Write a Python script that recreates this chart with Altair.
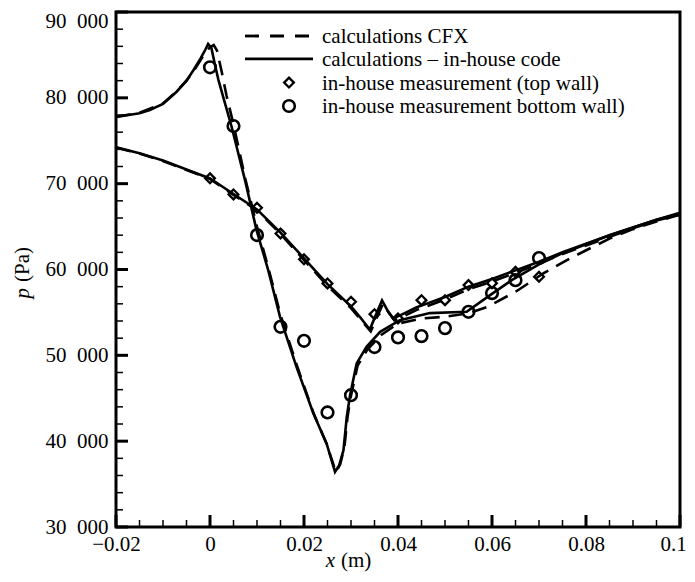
import altair as alt
import pandas as pd

# ---------------- data ----------------
top_code_x = [-0.02, -0.015, -0.01, -0.005, 0.0, 0.005, 0.01, 0.015, 0.02, 0.025, 0.03, 0.032,
              0.034, 0.0355, 0.0366, 0.0378, 0.039, 0.041, 0.044, 0.047, 0.05, 0.055, 0.06,
              0.065, 0.07, 0.075, 0.08, 0.085, 0.09, 0.095, 0.1]
top_code_p = [74230, 73550, 72700, 71650, 70600, 68800, 67000, 64300, 61300, 58300, 55700, 54400,
              53000, 55000, 56400, 55200, 54300, 54800, 55600, 56200, 56800, 58000, 58900,
              59900, 60900, 62000, 63000, 64000, 64900, 65800, 66500]

top_cfx_x = [-0.02, -0.015, -0.01, -0.005, 0.0, 0.005, 0.01, 0.015, 0.02, 0.025, 0.03, 0.032,
             0.0342, 0.0358, 0.0368, 0.038, 0.0392, 0.041, 0.044, 0.047, 0.05, 0.055, 0.06,
             0.065, 0.07, 0.075, 0.08, 0.085, 0.09, 0.095, 0.1]
top_cfx_p = [74200, 73500, 72650, 71600, 70550, 68700, 66900, 64150, 61100, 58100, 55500, 54200,
             52800, 54800, 56000, 55000, 54100, 54500, 55300, 55900, 56500, 57700, 58600,
             59600, 60700, 61800, 62800, 63800, 64800, 65700, 66400]

bot_code_x = [-0.02, -0.015, -0.0128, -0.01, -0.0071, -0.005, -0.0035, -0.002, -0.001, -0.0004,
              0.0003, 0.001, 0.0018, 0.003, 0.0046, 0.0075, 0.0099, 0.0124, 0.0149, 0.0184,
              0.022, 0.0248, 0.0266, 0.0275, 0.0284, 0.0291, 0.0298, 0.0312, 0.0333, 0.0362,
              0.0404, 0.0468, 0.0546, 0.0596, 0.0642, 0.07, 0.075, 0.08, 0.085, 0.09, 0.095, 0.1]
bot_code_p = [77760, 78200, 78580, 79300, 80710, 82000, 83240, 84600, 85600, 86270,
              85800, 84000, 82070, 79740, 76630, 70300, 64590, 59900, 54490, 48660,
              43230, 39730, 36420, 37200, 38950, 42830, 45360, 49060, 50990, 52740,
              54100, 54920, 55070, 57020, 58760, 60600, 61900, 62950, 64000, 64900, 65800, 66600]

bot_cfx_x = [-0.02, -0.015, -0.01, -0.0071, -0.005, -0.0035, -0.002, -0.001, 0.0, 0.0008,
             0.0015, 0.0025, 0.0035, 0.005, 0.0075, 0.01, 0.0125, 0.015, 0.0185, 0.022,
             0.0248, 0.0268, 0.0277, 0.0286, 0.0293, 0.03, 0.0314, 0.0335, 0.0365, 0.04,
             0.045, 0.05, 0.055, 0.059, 0.065, 0.071, 0.0766, 0.085, 0.09, 0.095, 0.1]
bot_cfx_p = [77800, 78250, 79350, 80750, 82000, 83100, 84400, 85300, 85900, 86150,
             85500, 83000, 80300, 76900, 70600, 65000, 60000, 54700, 48800, 43300,
             39700, 36400, 37300, 39300, 43000, 45300, 48800, 50700, 52400, 53700,
             54300, 54500, 54900, 55650, 57400, 59580, 61300, 63600, 64700, 65600, 66400]

top_meas_x = [0.0, 0.005, 0.01, 0.015, 0.02, 0.025, 0.03, 0.035, 0.04, 0.045, 0.05, 0.055,
              0.06, 0.065, 0.07]
top_meas_p = [70620, 68750, 67190, 64200, 61180, 58380, 56240, 54800, 54300, 56430, 56430,
              58180, 58410, 59730, 59150]

bot_meas_x = [0.0, 0.005, 0.01, 0.015, 0.02, 0.025, 0.03, 0.035, 0.04, 0.045, 0.05, 0.055,
              0.06, 0.065, 0.07]
bot_meas_p = [83560, 76710, 64010, 53320, 51690, 43350, 45360, 50960, 52090, 52240, 53170,
              55070, 57250, 58760, 61330]

x_ticks = [-0.02, 0.0, 0.02, 0.04, 0.06, 0.08, 0.1]
x_minor = [-0.015, -0.01, -0.005, 0.005, 0.01, 0.015, 0.025, 0.03, 0.035, 0.045, 0.05, 0.055,
           0.065, 0.07, 0.075, 0.085, 0.09, 0.095]
y_ticks = [30000, 40000, 50000, 60000, 70000, 80000, 90000]
y_minor = [v for v in range(32000, 90000, 2000) if v % 10000 != 0]

legend_labels = ["calculations CFX", "calculations \u2013 in-house code",
                 "in-house measurement (top wall)", "in-house measurement bottom wall)"]

# ---------------- chart ----------------
W, H = 564, 515
FONT = "Liberation Serif"

xs = alt.Scale(domain=[-0.02, 0.1], nice=False, zero=False)
ys = alt.Scale(domain=[30000, 90000], nice=False, zero=False)

xaxis = alt.Axis(values=x_ticks, format=".2~f", ticks=False, domain=False, grid=False,
                 labelFont=FONT, labelFontSize=21, labelColor="black", labelPadding=6,
                 labelFlush=False, title=None,
                 labelOffset={"condition": {"test": "datum.value == 0.1", "value": -7},
                              "value": 0})
yaxis = alt.Axis(values=y_ticks, ticks=False, domain=False, grid=False,
                 labelExpr="replace(format(datum.value, ',d'), ',', '\u2002')",
                 labelFont=FONT, labelFontSize=21, labelColor="black", labelPadding=8,
                 labelFlush=False, title=None,
                 labelOffset={"condition": {"test": "datum.value == 90000", "value": 9},
                              "value": 0})


def curve(xv, pv, dash=None, first=False):
    df = pd.DataFrame({"x": xv, "p": pv})
    kw = dict(color="black", strokeWidth=2.6, clip=True)
    if dash:
        kw["strokeDash"] = dash
    m = alt.Chart(df).mark_line(**kw)
    if first:
        return m.encode(x=alt.X("x:Q", scale=xs, axis=xaxis),
                        y=alt.Y("p:Q", scale=ys, axis=yaxis))
    return m.encode(x=alt.X("x:Q", scale=xs), y=alt.Y("p:Q", scale=ys))


dash = [15, 9]
layers = [
    curve(bot_cfx_x, bot_cfx_p, dash, first=True),
    curve(top_cfx_x, top_cfx_p, dash),
    curve(bot_code_x, bot_code_p),
    curve(top_code_x, top_code_p),
]

DIAMOND = dict(shape="diamond", size=95, filled=False, color="black", strokeWidth=2.3, opacity=1)
CIRCLE = dict(shape="circle", size=135, filled=False, color="black", strokeWidth=2.6, opacity=1)

top_df = pd.DataFrame({"x": top_meas_x, "p": top_meas_p})
bot_df = pd.DataFrame({"x": bot_meas_x, "p": bot_meas_p})
layers.append(alt.Chart(top_df).mark_point(**DIAMOND)
              .encode(x=alt.X("x:Q", scale=xs), y=alt.Y("p:Q", scale=ys)))
layers.append(alt.Chart(bot_df).mark_point(**CIRCLE)
              .encode(x=alt.X("x:Q", scale=xs), y=alt.Y("p:Q", scale=ys)))

# inward ticks
xmaj = pd.DataFrame({"x": x_ticks})
xmin = pd.DataFrame({"x": x_minor})
ymaj = pd.DataFrame({"p": y_ticks})
ymin = pd.DataFrame({"p": y_minor})
layers += [
    alt.Chart(xmaj).mark_rule(color="black", strokeWidth=3)
    .encode(x=alt.X("x:Q", scale=xs), y=alt.value(H), y2=alt.value(H - 12)),
    alt.Chart(xmin).mark_rule(color="black", strokeWidth=1.5)
    .encode(x=alt.X("x:Q", scale=xs), y=alt.value(H), y2=alt.value(H - 7)),
    alt.Chart(ymaj).mark_rule(color="black", strokeWidth=3)
    .encode(y=alt.Y("p:Q", scale=ys), x=alt.value(0), x2=alt.value(12)),
    alt.Chart(ymin).mark_rule(color="black", strokeWidth=1.5)
    .encode(y=alt.Y("p:Q", scale=ys), x=alt.value(0), x2=alt.value(7)),
]

# frame
layers.append(
    alt.Chart().mark_rect(filled=False, fill=None, stroke="black", strokeWidth=3)
    .encode(x=alt.value(0), x2=alt.value(W), y=alt.value(0), y2=alt.value(H))
)

# legend (drawn inside the plot)
rows = [25, 48.3, 71.6, 95]
layers += [
    alt.Chart().mark_rule(color="black", strokeWidth=2.8, strokeDash=[14, 11])
    .encode(x=alt.value(129), x2=alt.value(197), y=alt.value(rows[0] - 1)),
    alt.Chart().mark_rule(color="black", strokeWidth=2.8)
    .encode(x=alt.value(129), x2=alt.value(197), y=alt.value(rows[1] - 1.5)),
    alt.Chart().mark_point(**DIAMOND).encode(x=alt.value(173), y=alt.value(rows[2] - 1)),
    alt.Chart().mark_point(**CIRCLE).encode(x=alt.value(173), y=alt.value(rows[3] - 1)),
]
for lab, yy in zip(legend_labels, rows):
    layers.append(alt.Chart().mark_text(text=lab, font=FONT, fontSize=21, align="left",
                                        baseline="middle", color="black")
                  .encode(x=alt.value(206), y=alt.value(yy)))

# axis titles (italic variable + upright unit)
layers += [
    alt.Chart().mark_text(text="x", font=FONT, fontSize=21, fontStyle="italic",
                          align="right", baseline="middle", color="black")
    .encode(x=alt.value(219), y=alt.value(549)),
    alt.Chart().mark_text(text="(m)", font=FONT, fontSize=21, align="left",
                          baseline="middle", color="black")
    .encode(x=alt.value(225), y=alt.value(549)),
    alt.Chart().mark_text(text="p", font=FONT, fontSize=21, fontStyle="italic",
                          align="right", baseline="middle", angle=270, color="black")
    .encode(x=alt.value(-93), y=alt.value(276)),
    alt.Chart().mark_text(text="(Pa)", font=FONT, fontSize=21, align="left",
                          baseline="middle", angle=270, color="black")
    .encode(x=alt.value(-93), y=alt.value(270)),
]

chart = alt.layer(*layers).properties(
    width=W, height=H,
    padding={"left": 108, "top": 4, "right": 7, "bottom": 47},
    autosize=alt.AutoSizeParams(type="none"),
).configure_view(strokeWidth=0).configure(background="white")

chart.save("out.html", embed_options={"renderer": "svg", "actions": False})
